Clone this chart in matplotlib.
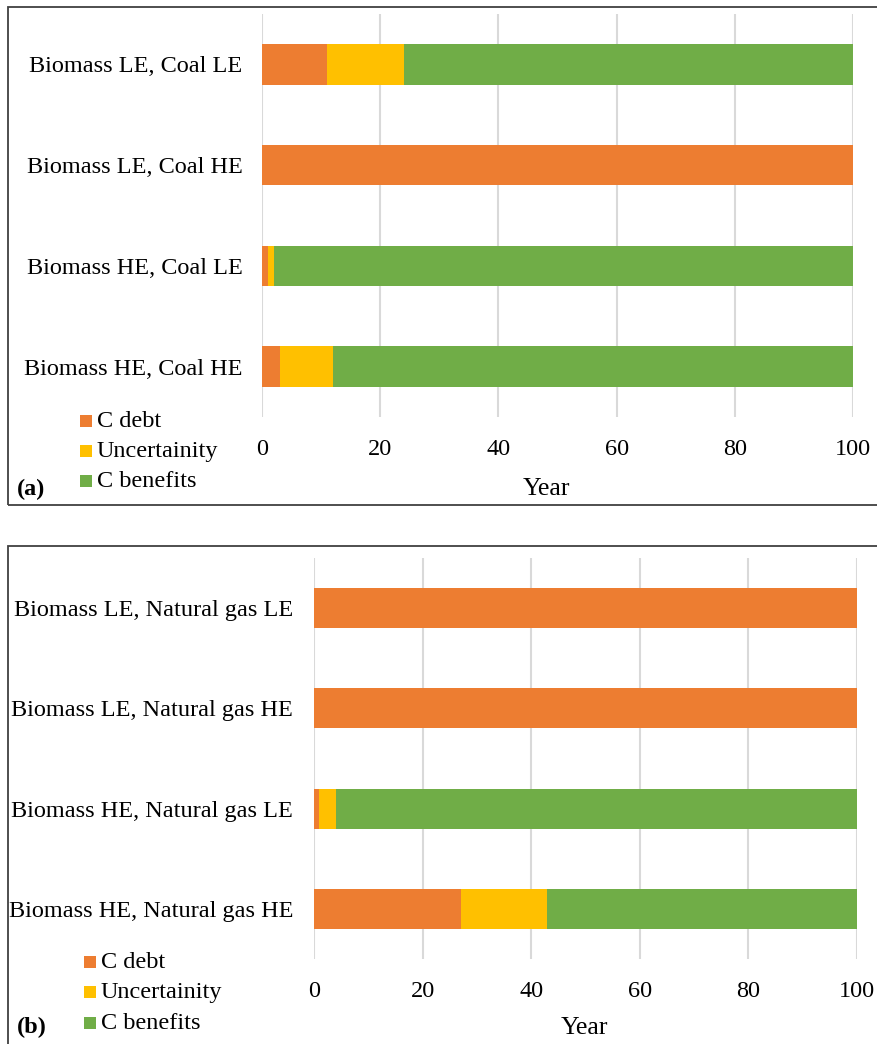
import matplotlib
matplotlib.use("Agg")
import matplotlib.pyplot as plt
from matplotlib.patches import Rectangle

plt.rcParams["font.family"] = ["Liberation Serif", "DejaVu Serif"]

# Panel (a): biomass vs coal
coal_scenarios = ["Biomass LE, Coal LE", "Biomass LE, Coal HE",
                  "Biomass HE, Coal LE", "Biomass HE, Coal HE"]
coal_debt = [11, 100, 1, 3]
coal_uncertainty = [13, 0, 1, 9]
coal_benefits = [76, 0, 98, 88]

# Panel (b): biomass vs natural gas
gas_scenarios = ["Biomass LE, Natural gas LE", "Biomass LE, Natural gas HE",
                 "Biomass HE, Natural gas LE", "Biomass HE, Natural gas HE"]
gas_debt = [100, 100, 1, 27]
gas_uncertainty = [0, 0, 3, 16]
gas_benefits = [0, 0, 96, 57]

series_names = ["C debt", "Uncertainity", "C benefits"]
series_colors = ["#ED7D31", "#FFC000", "#70AD47"]
xticks = [0, 20, 40, 60, 80, 100]

W, H = 878, 1044
FS = 17.5


def fx(x):
    return x / W


def fy(y):
    return 1 - y / H


fig = plt.figure(figsize=(W / 100, H / 100), dpi=100)


def panel(x0, x1, y0, y1, cats, stacks, ypad):
    ax = fig.add_axes([fx(x0), fy(y1), fx(x1) - fx(x0), (y1 - y0) / H])
    left = [0] * len(cats)
    ypos = list(range(len(cats)))
    for vals, color in zip(stacks, series_colors):
        ax.barh(ypos, vals, left=left, height=0.4, color=color,
                edgecolor="none", zorder=3)
        left = [a + b for a, b in zip(left, vals)]
    ax.set_xlim(0, 100)
    ax.set_ylim(len(cats) - 0.5, -0.5)
    ax.set_yticks(ypos)
    ax.set_yticklabels(cats, fontsize=FS)
    ax.set_xticks(xticks)
    ax.set_xticklabels([str(t) for t in xticks], fontsize=FS)
    ax.tick_params(axis="both", length=0)
    ax.tick_params(axis="y", pad=ypad)
    ax.tick_params(axis="x", pad=16)
    ax.grid(axis="x", color="#D9D9D9", linewidth=1.5, zorder=0)
    ax.set_axisbelow(True)
    for s in ax.spines.values():
        s.set_visible(False)
    return ax


panel(262, 853, 14, 417, coal_scenarios,
      [coal_debt, coal_uncertainty, coal_benefits], 14)
panel(314, 857, 558, 959, gas_scenarios,
      [gas_debt, gas_uncertainty, gas_benefits], 15)

# Frames around the two panels
fig.add_artist(Rectangle((fx(8), fy(505)), fx(900) - fx(8), (505 - 7) / H,
                         transform=fig.transFigure, fill=False,
                         edgecolor="#404040", linewidth=1.3))
fig.add_artist(Rectangle((fx(8), fy(1060)), fx(900) - fx(8), (1060 - 546) / H,
                         transform=fig.transFigure, fill=False,
                         edgecolor="#404040", linewidth=1.3))

# Axis titles and panel letters
fig.text(fx(546), fy(489), "Year", fontsize=FS + 1, ha="center", va="center")
fig.text(fx(584), fy(1028), "Year", fontsize=FS + 1, ha="center", va="center")
fig.text(fx(17), fy(489), "(a)", fontsize=FS, fontweight="bold",
         ha="left", va="center")
fig.text(fx(17), fy(1027), "(b)", fontsize=FS, fontweight="bold",
         ha="left", va="center")


def legend(mx, ys):
    for name, color, y in zip(series_names, series_colors, ys):
        fig.add_artist(Rectangle((fx(mx), fy(y + 6)), 12 / W, 12 / H,
                                 transform=fig.transFigure,
                                 facecolor=color, edgecolor="none"))
        fig.text(fx(mx + 17), fy(y + 1), name, fontsize=FS,
                 ha="left", va="center")


legend(80, [420.5, 450.5, 480.5])
legend(84, [961.5, 991.5, 1022.5])

fig.savefig("out.png", dpi=100)
